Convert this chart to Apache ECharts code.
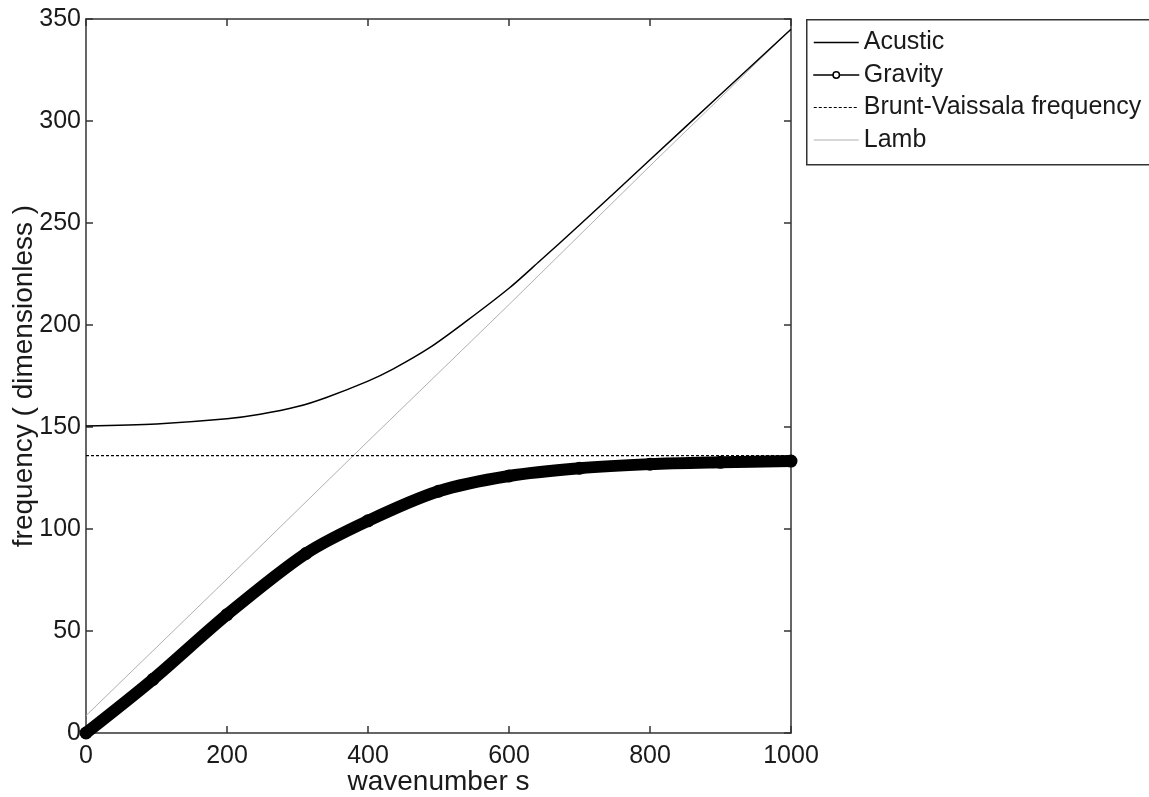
<!DOCTYPE html>
<html>
<head>
<meta charset="utf-8">
<script src="https://cdn.jsdelivr.net/npm/echarts@6/dist/echarts.min.js"></script>
<style>
html,body{margin:0;padding:0;background:#fff;}
#main{width:1149px;height:797px;}
</style>
</head>
<body>
<div id="main"></div>
<script>
// ---- data ----
var acusticX = [0, 100, 200, 247, 300, 341, 400, 436, 488, 540, 600, 644, 700, 800, 900, 1000];
var acusticY = [150.5, 151.5, 154, 156.2, 160, 164.5, 172.5, 178.5, 189, 202, 218, 231.5, 249, 281, 313, 345];

var gravityX = [0, 95, 200, 312, 400, 500, 600, 700, 800, 900, 1000];
var gravityY = [0, 26.3, 58, 88, 104, 118.5, 126, 129.8, 131.8, 132.7, 133.3];

var bruntX = [0, 1000];
var bruntY = [136, 136];

var lambX = [0, 200, 400, 600, 800, 1000];
var lambY = [8.5, 75.5, 143, 210, 278, 345];

var xTicks = [0, 200, 400, 600, 800, 1000];
var yTicks = [0, 50, 100, 150, 200, 250, 300, 350];

function pairs(xs, ys){ return xs.map(function(x,i){ return [x, ys[i]]; }); }

var FONT = "'Liberation Sans',Arial,Helvetica,sans-serif";
var TXT = '#1a1a1a';
var AX = '#333';

var chart = echarts.init(document.getElementById('main'), null, {renderer:'canvas'});
var option = {
  backgroundColor:'#fff',
  animation:false,
  textStyle:{fontFamily:FONT},
  grid:{left:86, right:358, top:19, bottom:64, show:false, containLabel:false, outerBoundsMode:'none'},
  graphic:[{
    type:'rect', left:806, top:19, z:100,
    shape:{x:0, y:0, width:400, height:145},
    style:{fill:'#fff', stroke:AX, lineWidth:1.5}
  }],
  legend:{
    left:808, top:25, orient:'vertical', z:110,
    itemWidth:45, itemHeight:8, itemGap:7.5,
    textStyle:{fontFamily:FONT, fontSize:25, color:TXT},
    data:[
      {name:'Acustic', lineStyle:{width:1.5}, itemStyle:{opacity:0}},
      {name:'Gravity', lineStyle:{width:1.5}, itemStyle:{color:'#fff', borderColor:'#000', borderWidth:1.5}},
      {name:'Brunt-Vaissala frequency', lineStyle:{width:1.2}, itemStyle:{opacity:0}},
      {name:'Lamb', lineStyle:{width:1}, itemStyle:{opacity:0}}
    ]
  },
  xAxis:[{
    type:'value', min:0, max:1000, interval:200, position:'bottom',
    name:'wavenumber s', nameLocation:'middle', nameGap:35, nameMoveOverlap:false,
    nameTextStyle:{fontFamily:FONT, fontSize:28, color:TXT},
    axisLine:{show:true, onZero:false, lineStyle:{color:AX, width:1.5}},
    axisTick:{show:true, inside:true, length:7, lineStyle:{color:AX, width:1.5}},
    axisLabel:{fontFamily:FONT, fontSize:25, color:TXT, margin:11,
      formatter:function(v){ return String(v); }},
    splitLine:{show:false}
  },{
    type:'value', min:0, max:1000, interval:200, position:'top',
    axisLine:{show:true, onZero:false, lineStyle:{color:AX, width:1.5}},
    axisTick:{show:true, inside:true, length:7, lineStyle:{color:AX, width:1.5}},
    axisLabel:{show:false}, splitLine:{show:false}
  }],
  yAxis:[{
    type:'value', min:0, max:350, interval:50, position:'left',
    name:'frequency ( dimensionless )', nameLocation:'middle', nameGap:48, nameMoveOverlap:false,
    nameTextStyle:{fontFamily:FONT, fontSize:28, color:TXT},
    axisLine:{show:true, onZero:false, lineStyle:{color:AX, width:1.5}},
    axisTick:{show:true, inside:true, length:7, lineStyle:{color:AX, width:1.5}},
    axisLabel:{fontFamily:FONT, fontSize:25, color:TXT, margin:5},
    splitLine:{show:false}
  },{
    type:'value', min:0, max:350, interval:50, position:'right',
    axisLine:{show:true, onZero:false, lineStyle:{color:AX, width:1.5}},
    axisTick:{show:true, inside:true, length:7, lineStyle:{color:AX, width:1.5}},
    axisLabel:{show:false}, splitLine:{show:false}
  }],
  series:[
    {name:'Acustic', type:'line', data:pairs(acusticX, acusticY), smooth:0.3,
     symbol:'none', lineStyle:{color:'#000', width:1.5}, itemStyle:{color:'#000'}, z:5},
    {name:'Gravity', type:'line', data:pairs(gravityX, gravityY), smooth:0.3,
     symbol:'circle', symbolSize:13, showSymbol:true, showAllSymbol:true,
     lineStyle:{color:'#000', width:12, cap:'round', join:'round'}, itemStyle:{color:'#000'}, z:4},
    {name:'Brunt-Vaissala frequency', type:'line', data:pairs(bruntX, bruntY),
     symbol:'none', lineStyle:{color:'#000', width:1.3, type:[3,2]}, itemStyle:{color:'#000'}, z:3},
    {name:'Lamb', type:'line', data:pairs(lambX, lambY),
     symbol:'none', lineStyle:{color:'#b0b0b0', width:1}, itemStyle:{color:'#b0b0b0'}, z:2}
  ]
};
chart.setOption(option);
</script>
</body>
</html>
